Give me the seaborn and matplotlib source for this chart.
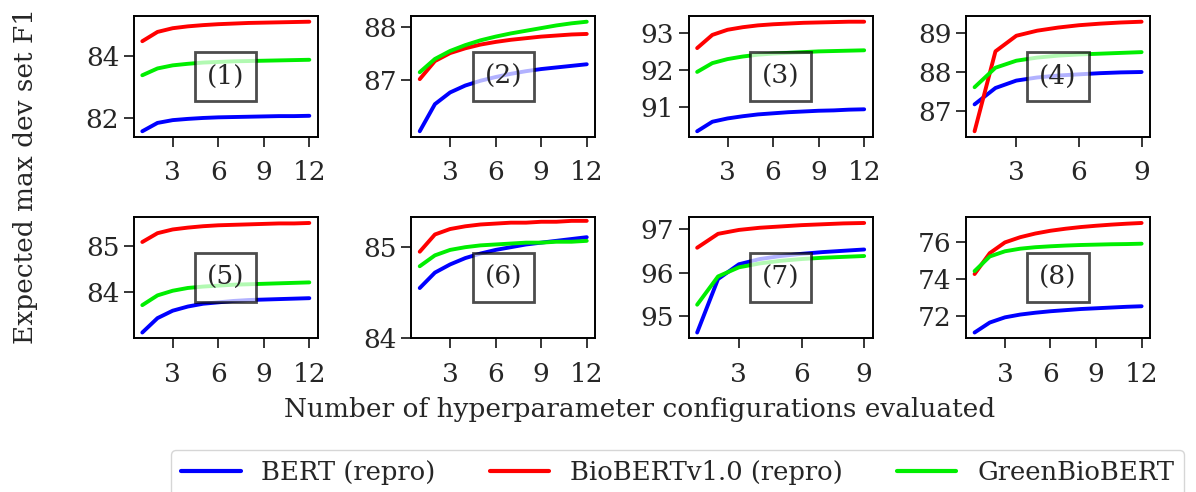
import numpy as np
import pandas as pd
import matplotlib
matplotlib.use("Agg")
import matplotlib.pyplot as plt
import seaborn as sns

models = ['BERT (repro)', 'BioBERTv1.0 (repro)', 'GreenBioBERT']
colors = ['#0000ff', '#ff0000', '#00ee00']
panel_names = ['(1)', '(2)', '(3)', '(4)', '(5)', '(6)', '(7)', '(8)']

# expected max dev F1 per number of configurations
bert = [
    [81.57, 81.84, 81.93, 81.97, 82.0, 82.02, 82.03, 82.04, 82.05, 82.06, 82.06, 82.07],
    [86.04, 86.55, 86.77, 86.9, 86.99, 87.06, 87.12, 87.17, 87.21, 87.24, 87.27, 87.3],
    [90.33, 90.59, 90.68, 90.74, 90.79, 90.82, 90.85, 90.87, 90.89, 90.9, 90.92, 90.93],
    [87.16, 87.58, 87.77, 87.85, 87.9, 87.93, 87.96, 87.98, 87.99],
    [83.13, 83.44, 83.6, 83.69, 83.75, 83.78, 83.81, 83.83, 83.84, 83.85, 83.86, 83.87],
    [84.55, 84.72, 84.81, 84.88, 84.93, 84.97, 85.0, 85.03, 85.05, 85.07, 85.09, 85.11],
    [94.63, 95.86, 96.2, 96.32, 96.39, 96.44, 96.48, 96.51, 96.54],
    [71.13, 71.67, 71.95, 72.1, 72.2, 72.28, 72.34, 72.4, 72.44, 72.48, 72.52, 72.55],
]
biobert = [
    [84.48, 84.78, 84.9, 84.96, 85.0, 85.03, 85.05, 85.07, 85.08, 85.09, 85.1, 85.11],
    [87.02, 87.36, 87.51, 87.6, 87.67, 87.72, 87.76, 87.79, 87.82, 87.84, 87.86, 87.87],
    [92.6, 92.96, 93.1, 93.17, 93.22, 93.25, 93.27, 93.29, 93.3, 93.31, 93.32, 93.32],
    [86.47, 88.52, 88.92, 89.05, 89.13, 89.19, 89.23, 89.26, 89.28],
    [85.08, 85.27, 85.35, 85.39, 85.42, 85.44, 85.45, 85.46, 85.47, 85.48, 85.48, 85.49],
    [84.95, 85.14, 85.2, 85.23, 85.25, 85.26, 85.27, 85.27, 85.28, 85.28, 85.29, 85.29],
    [96.58, 96.9, 96.99, 97.04, 97.07, 97.1, 97.12, 97.14, 97.15],
    [74.29, 75.42, 76.0, 76.28, 76.48, 76.63, 76.74, 76.83, 76.9, 76.96, 77.01, 77.05],
]
green = [
    [83.38, 83.6, 83.7, 83.75, 83.79, 83.81, 83.83, 83.84, 83.85, 83.86, 83.87, 83.88],
    [87.15, 87.4, 87.55, 87.66, 87.75, 87.82, 87.88, 87.93, 87.98, 88.03, 88.07, 88.1],
    [91.95, 92.19, 92.3, 92.37, 92.42, 92.45, 92.47, 92.49, 92.51, 92.52, 92.53, 92.54],
    [87.6, 88.1, 88.28, 88.36, 88.41, 88.44, 88.46, 88.48, 88.5],
    [83.72, 83.93, 84.03, 84.09, 84.12, 84.14, 84.16, 84.17, 84.18, 84.19, 84.2, 84.21],
    [84.79, 84.91, 84.97, 85.0, 85.02, 85.03, 85.04, 85.05, 85.05, 85.06, 85.06, 85.07],
    [95.27, 95.92, 96.13, 96.22, 96.28, 96.32, 96.35, 96.37, 96.39],
    [74.45, 75.24, 75.52, 75.66, 75.74, 75.79, 75.83, 75.86, 75.88, 75.9, 75.91, 75.93],
]
yticks = [[82, 84], [87, 88], [91, 92, 93], [87, 88, 89],
          [84, 85], [84, 85], [95, 96, 97], [72, 74, 76]]

rows = []
for p in range(8):
    for name, series in zip(models, [bert, biobert, green]):
        for i, v in enumerate(series[p]):
            rows.append({'panel': p, 'model': name, 'n': i + 1, 'f1': v})
df = pd.DataFrame(rows)

sns.set_style('ticks')
plt.rcParams['font.family'] = 'DejaVu Serif'
fs = 19

fig, axes = plt.subplots(2, 4, figsize=(11.96, 4.92), dpi=100)
fig.subplots_adjust(left=0.112, right=0.9615, top=0.967, bottom=0.313,
                    wspace=0.51, hspace=0.67)

for p, ax in enumerate(axes.flat):
    sub = df[df['panel'] == p]
    sns.lineplot(data=sub, x='n', y='f1', hue='model', hue_order=models,
                 palette=colors, lw=2.8, ax=ax, legend=False)
    xmax = sub['n'].max()
    ax.set_xticks([3, 6, 9, 12] if xmax == 12 else [3, 6, 9])
    ax.set_yticks(yticks[p])
    if p == 5:
        ax.set_ylim(bottom=84)
    ax.set_xlabel('')
    ax.set_ylabel('')
    ax.tick_params(labelsize=fs, length=7, width=1.3)
    ax.tick_params(axis='x', pad=10)
    for s in ax.spines.values():
        s.set_linewidth(1.4)
        s.set_color('black')
    ax.text(0.5, 0.5, panel_names[p], transform=ax.transAxes, ha='center',
            va='center', fontsize=fs,
            bbox=dict(boxstyle='square,pad=0.45', facecolor='white',
                      edgecolor='black', lw=2, alpha=0.7))

fig.text(0.535, 1 - 410 / 492, 'Number of hyperparameter configurations evaluated',
         ha='center', va='center', fontsize=fs)
fig.text(0.021, 0.643, 'Expected max dev set F1', rotation=90,
         ha='center', va='center', fontsize=fs)

handles = [plt.Line2D([], [], color=c, lw=3) for c in colors]
fig.legend(handles, models, loc='upper left', bbox_to_anchor=(0.143, 1 - 450 / 492),
           borderaxespad=0, ncol=3, fontsize=18.6, handlelength=2.3, handletextpad=0.8,
           columnspacing=2.1, frameon=True, edgecolor='#cccccc', fancybox=True)

fig.savefig('out.png', dpi=100)
